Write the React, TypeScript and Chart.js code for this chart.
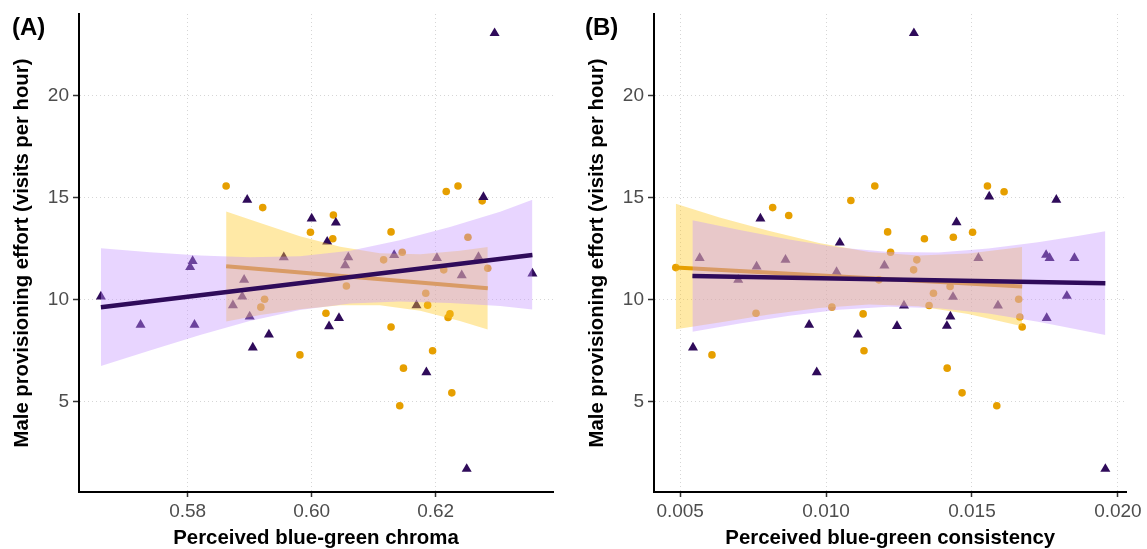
import React, { useEffect, useRef } from "react";
import { Chart, registerables } from "chart.js";

Chart.register(...registerables);

const FONT = "'Liberation Sans', Arial, Helvetica, sans-serif";
const ORANGE = "#E69F00";
const PURPLE = "#2F0B5A";
const ORANGE_BAND = "rgba(255, 200, 32, 0.4)";
const PURPLE_BAND = "rgba(198, 150, 255, 0.4)";

// ---------- shared y axis ----------
const yTicks = [5, 10, 15, 20];
const yTickLabels = ["5", "10", "15", "20"];
const yTitle = "Male provisioning effort (visits per hour)";

// ---------- Panel A: chroma ----------
const chromaTicks = [0.58, 0.6, 0.62];
const chromaTickLabels = ["0.58", "0.60", "0.62"];
const chromaTitle = "Perceived blue-green chroma";

const chromaOrangeX = [0.5862, 0.5921, 0.5998, 0.6035, 0.6034, 0.6128, 0.6217, 0.6236, 0.6275, 0.6252, 0.6116, 0.6146, 0.6213, 0.6284, 0.5924, 0.5918, 0.5981, 0.6056, 0.6184, 0.6187, 0.6223, 0.622, 0.6023, 0.6128, 0.6195, 0.6148, 0.6226, 0.6142];
const chromaOrangeY = [15.57, 14.51, 13.3, 14.15, 12.98, 13.32, 15.3, 15.57, 14.84, 13.06, 11.95, 12.32, 11.46, 11.54, 10.02, 9.63, 7.29, 10.67, 10.31, 9.73, 9.3, 9.12, 9.33, 8.66, 7.49, 6.64, 5.43, 4.8];

const chromaPurpleX = [0.6295, 0.5896, 0.6, 0.6039, 0.6025, 0.6277, 0.5808, 0.5804, 0.5955, 0.6059, 0.6054, 0.6133, 0.6202, 0.6269, 0.6242, 0.6356, 0.566, 0.5724, 0.5811, 0.5891, 0.5888, 0.5873, 0.59, 0.5905, 0.5931, 0.6044, 0.6028, 0.6169, 0.6185, 0.625];
const chromaPurpleY = [23.06, 14.89, 13.97, 13.77, 12.84, 15.03, 11.89, 11.59, 12.07, 12.07, 11.68, 12.18, 12.04, 12.09, 11.19, 11.28, 10.15, 8.76, 8.76, 10.97, 10.15, 9.72, 9.17, 7.65, 8.29, 9.1, 8.69, 9.72, 6.44, 1.7];

const chromaOrangeFitX = [0.5862, 0.6284];
const chromaOrangeFitY = [11.63, 10.56];
const chromaOrangeBandX = [0.5862, 0.5917, 0.5981, 0.6046, 0.611, 0.6175, 0.6239, 0.6284];
const chromaOrangeBandUpper = [14.32, 13.75, 13.11, 12.59, 12.27, 12.22, 12.39, 12.58];
const chromaOrangeBandLower = [8.93, 9.24, 9.53, 9.73, 9.73, 9.45, 8.95, 8.53];

const chromaPurpleFitX = [0.566, 0.6356];
const chromaPurpleFitY = [9.63, 12.19];
const chromaPurpleBandX = [0.566, 0.5739, 0.582, 0.59, 0.5981, 0.6062, 0.6142, 0.6223, 0.6304, 0.6356];
const chromaPurpleBandUpper = [12.52, 12.32, 12.16, 12.08, 12.13, 12.4, 12.91, 13.56, 14.31, 14.9];
const chromaPurpleBandLower = [6.74, 7.51, 8.27, 8.95, 9.49, 9.81, 9.91, 9.84, 9.69, 9.52];

// ---------- Panel B: consistency ----------
const consistencyTicks = [0.005, 0.01, 0.015, 0.02];
const consistencyTickLabels = ["0.005", "0.010", "0.015", "0.020"];
const consistencyTitle = "Perceived blue-green consistency";

const consistencyOrangeX = [0.00485, 0.00817, 0.00872, 0.01085, 0.01167, 0.01211, 0.01221, 0.01181, 0.0076, 0.0102, 0.01127, 0.00609, 0.0113, 0.01553, 0.0161, 0.01337, 0.01436, 0.01502, 0.01311, 0.013, 0.01425, 0.01368, 0.01353, 0.0166, 0.01664, 0.01672, 0.01415, 0.01466, 0.01585];
const consistencyOrangeY = [11.57, 14.51, 14.12, 14.86, 15.57, 13.32, 12.32, 10.97, 9.33, 9.63, 9.3, 7.29, 7.49, 15.57, 15.29, 12.98, 13.06, 13.3, 11.95, 11.46, 10.64, 10.31, 9.71, 10.02, 9.15, 8.66, 6.64, 5.43, 4.8];

const consistencyPurpleX = [0.01301, 0.00775, 0.01047, 0.00567, 0.00861, 0.00762, 0.01036, 0.00699, 0.012, 0.00942, 0.01109, 0.00544, 0.00968, 0.01559, 0.01789, 0.01447, 0.01522, 0.01754, 0.01766, 0.01851, 0.01435, 0.01825, 0.01589, 0.01267, 0.01756, 0.01426, 0.01414, 0.01243, 0.01957];
const consistencyPurpleY = [23.06, 13.97, 12.79, 12.04, 11.95, 11.62, 11.35, 10.97, 11.67, 8.76, 8.29, 7.65, 6.44, 15.05, 14.89, 13.79, 12.04, 12.19, 12.04, 12.04, 10.13, 10.18, 9.71, 9.71, 9.1, 9.17, 8.71, 8.7, 1.7];

const consistencyOrangeFitX = [0.00485, 0.01672];
const consistencyOrangeFitY = [11.57, 10.64];
const consistencyOrangeBandX = [0.00485, 0.00635, 0.00806, 0.00976, 0.01147, 0.01317, 0.01487, 0.01672];
const consistencyOrangeBandUpper = [14.7, 14.02, 13.36, 12.77, 12.34, 12.16, 12.26, 12.58];
const consistencyOrangeBandLower = [8.55, 8.88, 9.27, 9.59, 9.76, 9.67, 9.29, 8.69];

const consistencyPurpleFitX = [0.00542, 0.01957];
const consistencyPurpleFitY = [11.16, 10.8];
const consistencyPurpleBandX = [0.00542, 0.00704, 0.00874, 0.01044, 0.01215, 0.01385, 0.01556, 0.01726, 0.01862, 0.01957];
const consistencyPurpleBandUpper = [13.89, 13.41, 12.95, 12.56, 12.33, 12.31, 12.5, 12.81, 13.12, 13.35];
const consistencyPurpleBandLower = [8.43, 8.83, 9.21, 9.5, 9.65, 9.58, 9.32, 8.92, 8.54, 8.26];

// ---------- helpers ----------
const zip = (xs: number[], ys: number[]) => xs.map((x, i) => ({ x, y: ys[i] }));

const labelFor = (ticks: number[], labels: string[]) => (v: number) => {
  const i = ticks.findIndex((t) => Math.abs(t - v) < 1e-9);
  return i >= 0 ? labels[i] : "";
};

const panelLabelPlugin = {
  id: "panelLabel",
  afterDraw(chart: any, _args: any, opts: any) {
    const ctx = chart.ctx;
    ctx.save();
    ctx.font = `bold 24px ${FONT}`;
    ctx.fillStyle = "#000";
    ctx.textAlign = "left";
    ctx.textBaseline = "alphabetic";
    ctx.fillText(opts.text, opts.x, opts.y);
    ctx.restore();
  },
};

type PanelSpec = {
  label: string;
  labelX: number;
  left: number;
  width: number;
  padRight: number;
  xMin: number;
  xMax: number;
  xTicks: number[];
  xTickLabels: string[];
  xTitle: string;
  orangeX: number[];
  orangeY: number[];
  purpleX: number[];
  purpleY: number[];
  orangeFitX: number[];
  orangeFitY: number[];
  orangeBandX: number[];
  orangeBandUpper: number[];
  orangeBandLower: number[];
  purpleFitX: number[];
  purpleFitY: number[];
  purpleBandX: number[];
  purpleBandUpper: number[];
  purpleBandLower: number[];
};

const HEIGHT = 549;

function Panel({ spec }: { spec: PanelSpec }) {
  const ref = useRef<HTMLCanvasElement>(null);
  useEffect(() => {
    if (!ref.current) return;
    const hidden = { borderColor: "transparent", borderWidth: 0, pointRadius: 0, showLine: true };
    const chart = new Chart(ref.current, {
      type: "line",
      data: {
        datasets: [
          {
            data: zip(spec.purpleFitX, spec.purpleFitY),
            borderColor: PURPLE,
            borderWidth: 4.5,
            pointRadius: 0,
            showLine: true,
            fill: false,
            order: 1,
          },
          {
            data: zip(spec.purpleBandX, spec.purpleBandUpper),
            ...hidden,
            backgroundColor: PURPLE_BAND,
            fill: "+1",
            order: 2,
          },
          {
            data: zip(spec.purpleBandX, spec.purpleBandLower),
            ...hidden,
            fill: false,
            order: 2,
          },
          {
            data: zip(spec.orangeFitX, spec.orangeFitY),
            borderColor: ORANGE,
            borderWidth: 4,
            pointRadius: 0,
            showLine: true,
            fill: false,
            order: 3,
          },
          {
            data: zip(spec.orangeBandX, spec.orangeBandUpper),
            ...hidden,
            backgroundColor: ORANGE_BAND,
            fill: "+1",
            order: 4,
          },
          {
            data: zip(spec.orangeBandX, spec.orangeBandLower),
            ...hidden,
            fill: false,
            order: 4,
          },
          {
            data: zip(spec.purpleX, spec.purpleY),
            showLine: false,
            pointStyle: "triangle",
            pointRadius: 5.8,
            pointBackgroundColor: PURPLE,
            pointBorderWidth: 0,
            pointBorderColor: "transparent",
            order: 5,
          },
          {
            data: zip(spec.orangeX, spec.orangeY),
            showLine: false,
            pointStyle: "circle",
            pointRadius: 3.8,
            pointBackgroundColor: ORANGE,
            pointBorderWidth: 0,
            pointBorderColor: "transparent",
            order: 6,
          },
        ] as any,
      },
      options: {
        responsive: false,
        animation: false,
        events: [],
        layout: { padding: { left: 0, top: 14, right: spec.padRight, bottom: 0 } },
        elements: { line: { tension: 0 } },
        plugins: {
          legend: { display: false },
          tooltip: { enabled: false },
          panelLabel: { text: spec.label, x: spec.labelX, y: 35 },
        } as any,
        scales: {
          x: {
            type: "linear",
            min: spec.xMin,
            max: spec.xMax,
            afterBuildTicks: (s: any) => {
              s.ticks = spec.xTicks.map((v) => ({ value: v }));
            },
            afterFit: (s: any) => {
              s.height = 57;
            },
            ticks: {
              autoSkip: false,
              maxRotation: 0,
              padding: 5,
              color: "#4D4D4D",
              font: { family: FONT, size: 19, lineHeight: 1 },
              callback: (v: any) => labelFor(spec.xTicks, spec.xTickLabels)(Number(v)),
            },
            grid: {
              color: "#d6d6d6",
              lineWidth: 1,
              drawTicks: true,
              tickLength: 5,
              tickColor: "#333333",
              tickWidth: 1.5,
              tickBorderDash: [],
            },
            border: { display: true, color: "#000", width: 2, dash: [1, 3] },
            title: {
              display: true,
              text: spec.xTitle,
              color: "#000",
              font: { family: FONT, size: 20.4, weight: "bold", lineHeight: 1 },
              padding: { top: 0, bottom: 0 },
            },
          },
          y: {
            type: "linear",
            min: 0.57,
            max: 24.0,
            afterBuildTicks: (s: any) => {
              s.ticks = yTicks.map((v) => ({ value: v }));
            },
            afterFit: (s: any) => {
              s.width = 79;
            },
            ticks: {
              autoSkip: false,
              padding: 4,
              color: "#4D4D4D",
              font: { family: FONT, size: 19, lineHeight: 1 },
              callback: (v: any) => labelFor(yTicks, yTickLabels)(Number(v)),
            },
            grid: {
              color: "#d6d6d6",
              lineWidth: 1,
              drawTicks: true,
              tickLength: 6,
              tickColor: "#333333",
              tickWidth: 1.5,
              tickBorderDash: [],
            },
            border: { display: true, color: "#000", width: 2, dash: [1, 3] },
            title: {
              display: true,
              text: yTitle,
              color: "#000",
              font: { family: FONT, size: 20.3, weight: "bold", lineHeight: 1 },
              padding: { top: 12, bottom: 0 },
            },
          },
        } as any,
      },
      plugins: [panelLabelPlugin as any],
    });
    return () => chart.destroy();
  }, [spec]);

  return (
    <canvas
      ref={ref}
      width={spec.width}
      height={HEIGHT}
      style={{ position: "absolute", left: spec.left, top: 0, width: spec.width, height: HEIGHT, display: "block" }}
    />
  );
}

const panelA: PanelSpec = {
  label: "(A)",
  labelX: 12,
  left: 0,
  width: 575,
  padRight: 22,
  xMin: 0.56247,
  xMax: 0.63892,
  xTicks: chromaTicks,
  xTickLabels: chromaTickLabels,
  xTitle: chromaTitle,
  orangeX: chromaOrangeX,
  orangeY: chromaOrangeY,
  purpleX: chromaPurpleX,
  purpleY: chromaPurpleY,
  orangeFitX: chromaOrangeFitX,
  orangeFitY: chromaOrangeFitY,
  orangeBandX: chromaOrangeBandX,
  orangeBandUpper: chromaOrangeBandUpper,
  orangeBandLower: chromaOrangeBandLower,
  purpleFitX: chromaPurpleFitX,
  purpleFitY: chromaPurpleFitY,
  purpleBandX: chromaPurpleBandX,
  purpleBandUpper: chromaPurpleBandUpper,
  purpleBandLower: chromaPurpleBandLower,
};

const panelB: PanelSpec = {
  label: "(B)",
  labelX: 10,
  left: 575,
  width: 572,
  padRight: 18,
  xMin: 0.004104,
  xMax: 0.020293,
  xTicks: consistencyTicks,
  xTickLabels: consistencyTickLabels,
  xTitle: consistencyTitle,
  orangeX: consistencyOrangeX,
  orangeY: consistencyOrangeY,
  purpleX: consistencyPurpleX,
  purpleY: consistencyPurpleY,
  orangeFitX: consistencyOrangeFitX,
  orangeFitY: consistencyOrangeFitY,
  orangeBandX: consistencyOrangeBandX,
  orangeBandUpper: consistencyOrangeBandUpper,
  orangeBandLower: consistencyOrangeBandLower,
  purpleFitX: consistencyPurpleFitX,
  purpleFitY: consistencyPurpleFitY,
  purpleBandX: consistencyPurpleBandX,
  purpleBandUpper: consistencyPurpleBandUpper,
  purpleBandLower: consistencyPurpleBandLower,
};

export default function App() {
  return (
    <div style={{ position: "absolute", left: 0, top: 0, width: 1147, height: HEIGHT, background: "#fff", overflow: "hidden" }}>
      <Panel spec={panelA} />
      <Panel spec={panelB} />
    </div>
  );
}
